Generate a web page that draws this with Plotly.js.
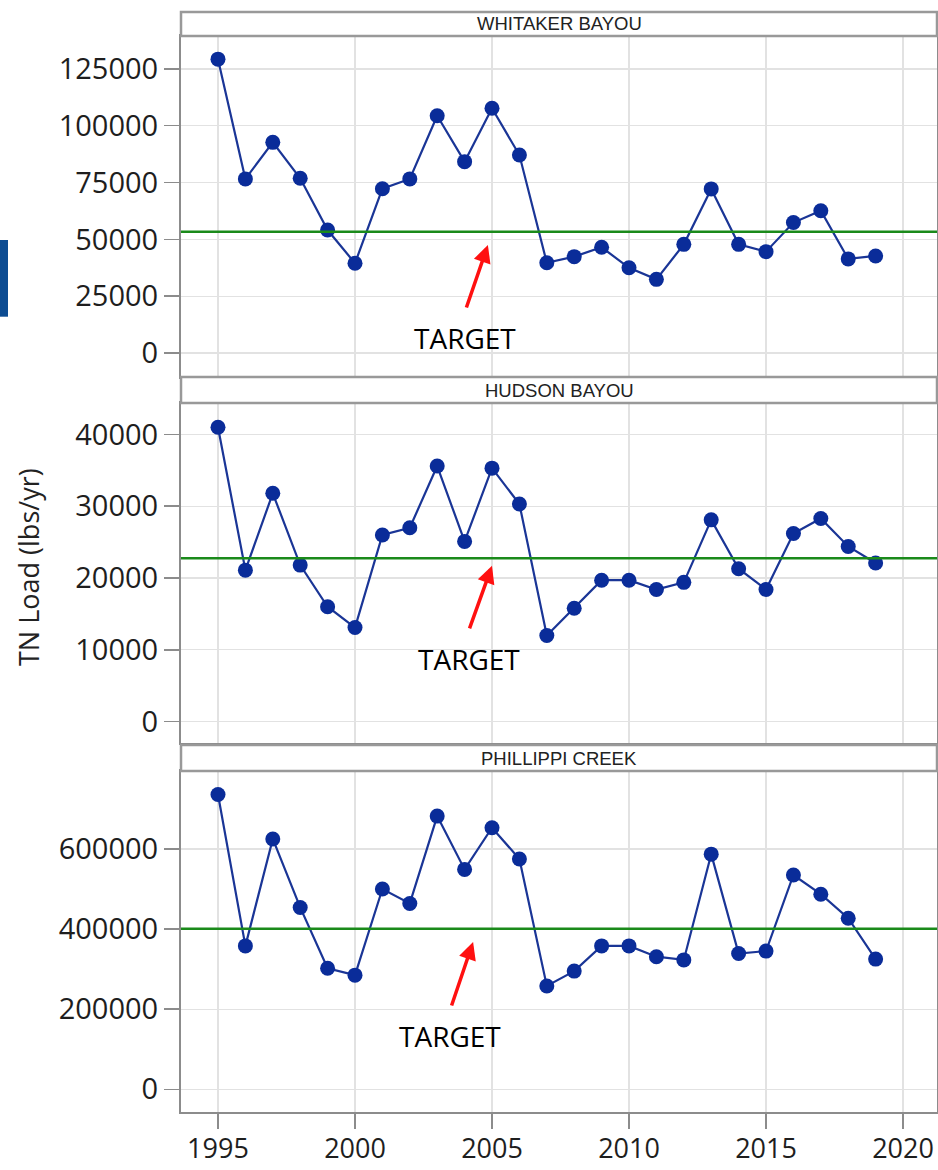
<!DOCTYPE html>
<html>
<head>
<meta charset="utf-8">
<script src="https://cdn.plot.ly/plotly-3.0.1.min.js"></script>
<style>html,body{margin:0;padding:0;background:#fff;}#chart{width:938px;height:1170px;}</style>
</head>
<body>
<div id="chart"></div>
<script>
// ---- data ----
const years = [1995,1996,1997,1998,1999,2000,2001,2002,2003,2004,2005,2006,2007,2008,2009,2010,2011,2012,2013,2014,2015,2016,2017,2018,2019];
const whitakerBayou = [129300,76600,92700,76900,54100,39500,72300,76600,104400,84200,107700,87100,39700,42400,46500,37500,32400,47800,72200,47800,44600,57400,62600,41400,42700];
const hudsonBayou = [41000,21100,31800,21800,16000,13100,26000,27000,35600,25100,35300,30300,12000,15800,19700,19700,18400,19400,28100,21300,18400,26200,28300,24400,22100];
const phillippiCreek = [736000,358000,625000,454000,302000,285000,500000,464000,682000,549000,653000,575000,258000,295000,358000,358000,331000,323000,587000,339000,345000,535000,487000,427000,325000];
const panelNames = ["WHITAKER BAYOU","HUDSON BAYOU","PHILLIPPI CREEK"];
const targets = [53400, 22750, 401000];
const yTickStep = [25000, 10000, 200000];
const yRanges = [[-10560,139500],[-2970,44370],[-56700,794600]];
const xTickVals = [1995,2000,2005,2010,2015,2020];
const yTitle = "TN Load (lbs/yr)";
const targetLabel = "TARGET";

const series = [whitakerBayou, hudsonBayou, phillippiCreek];

// ---- layout geometry (paper fractions) ----
const plotDomains = [[0.6682,0.9782],[0.3355,0.6445],[0.0,0.31]];
const stripDomains = [[0.9782,1.0],[0.6445,0.6682],[0.31,0.3336]];

const traces = series.map((s,i)=>({
  type:'scatter', mode:'lines+markers',
  x: years, y: s,
  xaxis: i===0?'x':'x'+(i+1), yaxis: i===0?'y':'y'+(i+1),
  line:{color:'#1a3596', width:2.2},
  marker:{color:'#0a2c99', size:15},
  showlegend:false, hoverinfo:'skip'
}));

const gridColor = '#e2e2e2';
const axisLine = '#8c8c8c';
const tickFont = {family:'Open Sans, Noto Sans, sans-serif', size:29, color:'#1e1e1e'};
const xTickFont = {family:'Open Sans, Noto Sans, sans-serif', size:27, color:'#1e1e1e'};

const layout = {
  width:938, height:1170,
  margin:{l:181, r:1, t:12, b:58},
  paper_bgcolor:'#fff', plot_bgcolor:'#fff',
  showlegend:false,
  shapes:[], annotations:[]
};

for (let i=0;i<3;i++){
  const xa = i===0?'xaxis':'xaxis'+(i+1);
  const ya = i===0?'yaxis':'yaxis'+(i+1);
  layout[xa] = {
    domain:[0,1], range:[1993.65,2021.24], anchor: i===0?'y':'y'+(i+1),
    tickvals: xTickVals, showticklabels: i===2,
    ticks: i===2?'outside':'', ticklen:15, tickwidth:1.5, tickcolor:axisLine,
    tickfont: xTickFont, ticklabelstandoff:-3,
    showgrid:true, gridcolor:gridColor, gridwidth:1.3,
    zeroline:false, showline:true, linecolor:axisLine, linewidth:2, mirror:true,
    fixedrange:true
  };
  if (i<2) layout[xa].matches = 'x3';
  layout[ya] = {
    domain: plotDomains[i], range: yRanges[i], anchor: i===0?'x':'x'+(i+1),
    dtick: yTickStep[i], tick0:0, tickformat:'d',
    ticks:'outside', ticklen:15, tickwidth:1.5, tickcolor:axisLine,
    tickfont: tickFont,
    showgrid:true, gridcolor:gridColor, gridwidth:1.3,
    zeroline:false, showline:true, linecolor:axisLine, linewidth:2, mirror:true,
    fixedrange:true
  };
  const xr = i===0?'x':'x'+(i+1);
  const yr = i===0?'y':'y'+(i+1);
  // target line
  layout.shapes.push({type:'line', xref: xr+' domain', yref: yr, x0:0, x1:1, y0:targets[i], y1:targets[i],
    line:{color:'#1a8a1a', width:2.5}, layer:'above'});
  // strip
  layout.shapes.push({type:'rect', xref:'paper', yref:'paper', x0:0, x1:1, y0:stripDomains[i][0], y1:stripDomains[i][1],
    fillcolor:'#fff', line:{color:'#999', width:2.5}});
  layout.annotations.push({xref:'paper', yref:'paper', x:0.5, y:(stripDomains[i][0]+stripDomains[i][1])/2,
    text: panelNames[i], showarrow:false, xanchor:'center', yanchor:'middle',
    font:{family:'Liberation Sans, Arial, sans-serif', size:18.5, color:'#222'}});
}

// TARGET labels and arrows
const arrowTips = [[2004.85,47500],[2005.0,21700],[2004.31,367700]];
const arrowOff = [[-22,64],[-23,64],[-22,65]];
const labelPos = [[2004.01,6600],[2004.16,8730],[2003.47,133000]];
for (let i=0;i<3;i++){
  const xr = i===0?'x':'x'+(i+1);
  const yr = i===0?'y':'y'+(i+1);
  layout.annotations.push({xref:xr, yref:yr, x:arrowTips[i][0], y:arrowTips[i][1], ax:arrowOff[i][0], ay:arrowOff[i][1],
    text:'', showarrow:true, arrowhead:2, arrowsize:1, arrowwidth:3.5, arrowcolor:'#ff1010'});
  layout.annotations.push({xref:xr, yref:yr, x:labelPos[i][0], y:labelPos[i][1], text:targetLabel, showarrow:false,
    xanchor:'center', yanchor:'middle', font:{family:'Open Sans, sans-serif', size:28, color:'#000'}});
}

// y-axis title
layout.annotations.push({xref:'paper', yref:'paper', x:(28-181)/756, y:(1112-567)/1100, text:yTitle, textangle:-90,
  showarrow:false, xanchor:'center', yanchor:'middle', font:{family:'Open Sans, sans-serif', size:27, color:'#222'}});

// decorative blue bar at left edge
layout.shapes.push({type:'rect', xref:'paper', yref:'paper', x0:(0-181)/756, x1:(8-181)/756,
  y0:(1112-316.7)/1100, y1:(1112-240)/1100, fillcolor:'#0d4c92', line:{width:0}});

Plotly.newPlot('chart', traces, layout, {staticPlot:true, displayModeBar:false});
</script>
</body>
</html>
